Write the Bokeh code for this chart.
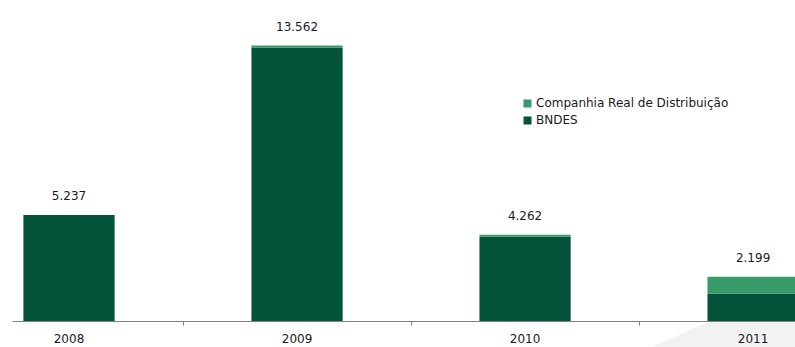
from bokeh.plotting import figure
from bokeh.models import (ColumnDataSource, FixedTicker, Legend, LegendItem,
                          LinearAxis, Range1d)
from bokeh.core.properties import value
from bokeh.embed import file_html
from bokeh.resources import INLINE

# ---- data ----
years = ["2008", "2009", "2010", "2011"]
bndes = [5237, 13462, 4162, 1380]
companhia = [0, 100, 100, 819]
series_names = ["BNDES", "Companhia Real de Distribuição"]

DARK = "#03533A"
LIGHT = "#369B69"
FONT = "DejaVu Sans"

xs = list(range(len(years)))
totals = [b + c for b, c in zip(bndes, companhia)]
labels = [f"{t:,}".replace(",", ".") for t in totals]

src = ColumnDataSource(dict(x=xs, bndes=bndes, companhia=companhia,
                            total=totals, label=labels))

X0, X1 = -0.2478, 3.186
Y0, Y1 = -1278, 15381

p = figure(width=795, height=347, output_backend="svg", toolbar_location=None,
           x_range=Range1d(X0, X1), y_range=Range1d(Y0, Y1),
           x_axis_location=None, y_axis_location=None,
           min_border_left=12, min_border_right=0, min_border_top=8,
           min_border_bottom=0)
p.outline_line_color = None
p.grid.visible = False
p.background_fill_color = "white"
p.border_fill_color = "white"

# faint decorative wedge in lower right (background decoration)
wedge_x = [2.55, 2.809, X1, X1]
wedge_y = [Y0, 0, 0, Y0]
p.patch(wedge_x, wedge_y, fill_color="#f2f2f2", line_alpha=0, level="underlay")

r = p.vbar_stack(["bndes", "companhia"], x="x", width=0.4, source=src,
                 color=[DARK, LIGHT], line_color=None)

p.text(x="x", y="total", text="label", source=src, text_align="center",
       text_baseline="alphabetic", y_offset=-19, text_font=value(FONT),
       text_font_size="12px", text_color="#1a1a1a")

ax = LinearAxis(ticker=FixedTicker(ticks=xs, minor_ticks=[0.5, 1.5, 2.5]),
                fixed_location=0)
ax.major_label_overrides = {i: y for i, y in zip(xs, years)}
ax.axis_line_color = "#808080"
ax.major_tick_out = 0
ax.major_tick_in = 0
ax.minor_tick_out = 4
ax.minor_tick_in = 0
ax.minor_tick_line_color = "#808080"
ax.major_label_standoff = 9
ax.major_label_text_font = FONT
ax.major_label_text_font_size = "12px"
ax.major_label_text_color = "#1a1a1a"
p.add_layout(ax, "below")

legend = Legend(items=[LegendItem(label=series_names[1], renderers=[r[1]]),
                       LegendItem(label=series_names[0], renderers=[r[0]])],
                location=(510, 220))
legend.glyph_width = 10
legend.glyph_height = 10
legend.label_standoff = 4
legend.label_height = 15
legend.spacing = 2
legend.padding = 0
legend.margin = 0
legend.border_line_alpha = 0
legend.background_fill_alpha = 0
legend.label_text_font = FONT
legend.label_text_font_size = "12px"
legend.label_text_color = "#1a1a1a"
p.add_layout(legend)

open("out.html", "w").write(file_html(p, INLINE))
